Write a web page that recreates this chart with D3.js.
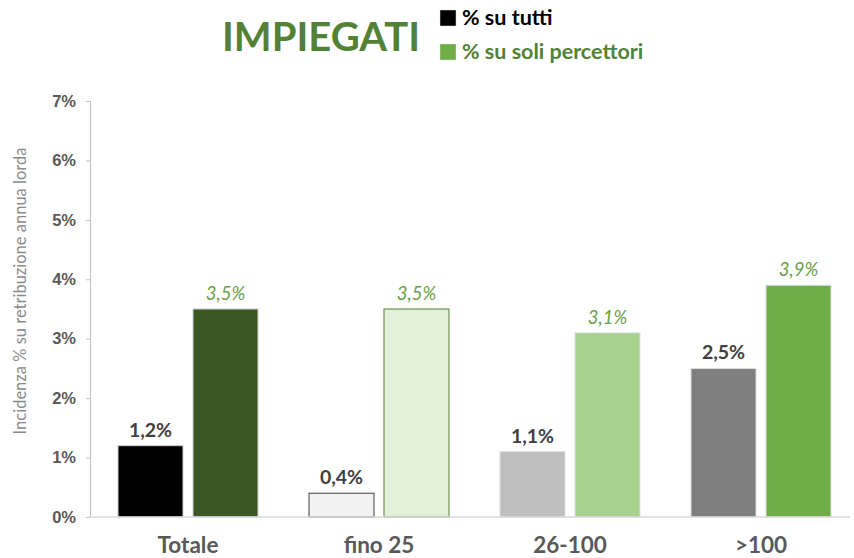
<!DOCTYPE html>
<html>
<head>
<meta charset="utf-8">
<script src="https://cdn.jsdelivr.net/npm/d3@7"></script>
<style>
  body { margin: 0; background: #fff; }
  svg { font-family: "Source Sans Pro", Lato, "Noto Sans", sans-serif; }
</style>
</head>
<body>
<div id="chart"></div>
<script>
var width = 854;
var height = 558;

var categories = ['Totale', 'fino 25', '26-100', '>100'];
var suTutti = [1.2, 0.4, 1.1, 2.5];
var suPercettori = [3.5, 3.5, 3.1, 3.9];
var yTicks = [0, 1, 2, 3, 4, 5, 6, 7];

// one fill per bar, like the original (each category has its own shade)
var tuttiFill = ['#000000', '#f2f2f2', '#bfbfbf', '#7f7f7f'];
var tuttiStroke = ['#d0d0d0', '#404040', '#e0e0e0', '#e0e0e0'];
var percFill = ['#3a5724', '#e2efda', '#a9d18e', '#70ad47'];
var percStroke = ['#d0d0d0', '#538135', '#e0e0e0', '#e0e0e0'];

var fmt = (v) => v.toFixed(1).replace('.', ',') + '%';

var svg = d3.select('#chart')
    .append('svg')
    .attr('width', width)
    .attr('height', height);

var x = d3.scaleBand()
    .domain(categories)
    .range([90, 854]);

var xInner = d3.scaleBand()
    .domain(['tutti', 'perc'])
    .range([28, 168])
    .paddingInner(10 / 75);

var y = d3.scaleLinear()
    .domain([0, 7])
    .range([517, 101]);

// y axis
var yAxis = d3.axisLeft(y)
    .tickValues(yTicks)
    .tickSize(4)
    .tickFormat((d) => d + '%');

var yg = svg.append('g')
    .attr('transform', 'translate(90,0)')
    .call(yAxis);
yg.select('.domain').attr('stroke', '#bfbfbf');
yg.selectAll('.tick line').attr('stroke', '#bfbfbf');
yg.selectAll('.tick text')
    .attr('x', -14)
    .attr('fill', '#595959')
    .style('font-size', '16.5px')
    .style('font-weight', 'bold');

svg.append('text')
    .attr('transform', 'translate(26,' + 291 + ') rotate(-90)')
    .attr('text-anchor', 'middle')
    .attr('fill', '#8a8a8a')
    .style('font-size', '16.5px')
    .text('Incidenza % su retribuzione annua lorda');

var groups = svg.selectAll('.cat')
    .data(categories)
    .enter()
    .append('g')
    .attr('class', 'cat')
    .attr('transform', (d) => 'translate(' + x(d) + ',0)');

groups.append('rect')
    .attr('x', xInner('tutti'))
    .attr('y', (d, i) => y(suTutti[i]))
    .attr('width', xInner.bandwidth())
    .attr('height', (d, i) => y(0) - y(suTutti[i]))
    .attr('fill', (d, i) => tuttiFill[i])
    .attr('stroke', (d, i) => tuttiStroke[i])
    .attr('stroke-width', 1);

groups.append('rect')
    .attr('x', xInner('perc'))
    .attr('y', (d, i) => y(suPercettori[i]))
    .attr('width', xInner.bandwidth())
    .attr('height', (d, i) => y(0) - y(suPercettori[i]))
    .attr('fill', (d, i) => percFill[i])
    .attr('stroke', (d, i) => percStroke[i])
    .attr('stroke-width', 1);

groups.append('text')
    .attr('x', xInner('tutti') + xInner.bandwidth() / 2)
    .attr('y', (d, i) => y(suTutti[i]) - 9)
    .attr('text-anchor', 'middle')
    .attr('fill', '#404040')
    .style('font-size', '19.5px')
    .style('font-weight', 'bold')
    .text((d, i) => fmt(suTutti[i]));

groups.append('text')
    .attr('x', xInner('perc') + xInner.bandwidth() / 2)
    .attr('y', (d, i) => y(suPercettori[i]) - 9)
    .attr('text-anchor', 'middle')
    .attr('fill', '#6a9f48')
    .style('font-size', '18.5px')
    .style('font-style', 'italic')
    .text((d, i) => fmt(suPercettori[i]));

// baseline
svg.append('line')
    .attr('x1', 90)
    .attr('x2', 850)
    .attr('y1', y(0))
    .attr('y2', y(0))
    .attr('stroke', '#d9d9d9')
    .attr('stroke-width', 1.5);

// x axis labels
svg.selectAll('.xlab')
    .data(categories)
    .enter()
    .append('text')
    .attr('class', 'xlab')
    .attr('x', (d) => x(d) + 98)
    .attr('y', 553)
    .attr('text-anchor', 'middle')
    .attr('fill', '#595959')
    .style('font-size', '22.5px')
    .style('font-weight', 'bold')
    .text((d) => d);

// title + legend
svg.append('text')
    .attr('x', 222)
    .attr('y', 51)
    .attr('fill', '#538135')
    .style('font-size', '40px')
    .style('font-weight', 'bold')
    .text('IMPIEGATI');

var legendNames = ['% su tutti', '% su soli percettori'];
var legendColors = ['#000000', '#70ad47'];
var legendText = ['#000000', '#538135'];

var lg = svg.selectAll('.legend')
    .data(legendNames)
    .enter()
    .append('g')
    .attr('class', 'legend')
    .attr('transform', (d, i) => 'translate(440,' + (10 + i * 34) + ')');

lg.append('rect')
    .attr('width', 16)
    .attr('height', 16)
    .attr('fill', (d, i) => legendColors[i])
    .attr('stroke', '#d9d9d9')
    .attr('stroke-width', 0.5);

lg.append('text')
    .attr('x', 22)
    .attr('y', 15)
    .attr('fill', (d, i) => legendText[i])
    .style('font-size', '21.5px')
    .style('font-weight', 'bold')
    .text((d) => d);
</script>
</body>
</html>
